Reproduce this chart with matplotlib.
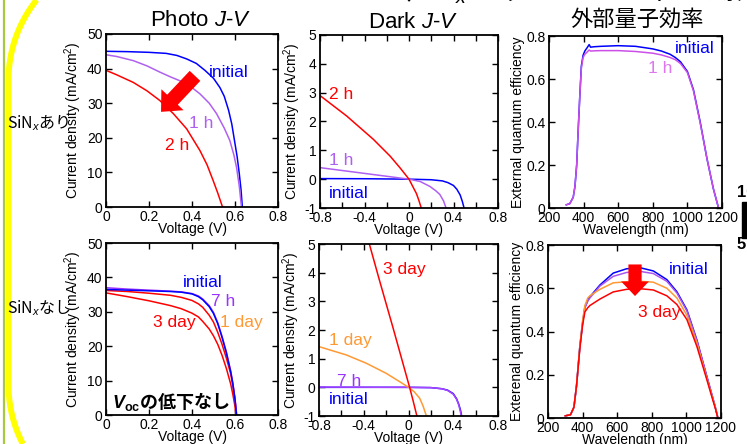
import numpy as np
import matplotlib
matplotlib.use("Agg")
import matplotlib.pyplot as plt
from matplotlib.lines import Line2D
from matplotlib.patches import Rectangle

plt.rcParams['font.family'] = ['Liberation Sans', 'Noto Sans CJK JP']
plt.rcParams['axes.unicode_minus'] = False
plt.rcParams['mathtext.fontset'] = 'custom'
plt.rcParams['mathtext.rm'] = 'Liberation Sans'
plt.rcParams['mathtext.it'] = 'Liberation Sans:italic'
plt.rcParams['mathtext.bf'] = 'Liberation Sans:bold'
try:
    plt.rcParams['mathtext.bfit'] = 'Liberation Sans:italic:bold'
except Exception:
    pass

# ---------------- data ----------------
# Panel 1: Photo J-V, SiNx あり
p1_initial_v = [0, 0.1, 0.2, 0.28, 0.33, 0.375, 0.42, 0.46, 0.5, 0.53, 0.55, 0.57, 0.585, 0.6, 0.61, 0.62, 0.628, 0.634]
p1_initial_j = [45, 44.9, 44.7, 44.4, 43.8, 42.8, 41.5, 39.5, 37.2, 34.5, 32, 28, 24, 18.3, 14.5, 9.6, 5, 0]
p1_1h_v = [0, 0.05, 0.127, 0.19, 0.25, 0.3, 0.343, 0.39, 0.437, 0.48, 0.514, 0.55, 0.576, 0.595, 0.607, 0.62, 0.63]
p1_1h_j = [44, 43.5, 42.3, 40.8, 39, 37.6, 36.5, 35, 32.7, 30, 27, 22.8, 19.2, 15, 11.5, 6, 0]
p1_2h_v = [0, 0.05, 0.127, 0.19, 0.25, 0.313, 0.375, 0.437, 0.47, 0.498, 0.52, 0.542]
p1_2h_j = [39.5, 38.2, 36, 33.6, 30.8, 27, 22.6, 16.3, 12.2, 7.7, 4, 0]

# Panel 2: Dark J-V, SiNx あり
p2_initial_v = [-0.8, -0.4, 0, 0.2, 0.3, 0.35, 0.4, 0.43, 0.46, 0.48, 0.495]
p2_initial_j = [0.02, 0.015, 0.0, -0.02, -0.06, -0.12, -0.22, -0.35, -0.55, -0.78, -1.0]
p2_1h_v = [-0.8, -0.4, 0, 0.1, 0.187, 0.24, 0.277, 0.31, 0.333]
p2_1h_j = [0.4, 0.2, 0.0, -0.08, -0.25, -0.4, -0.53, -0.75, -1.0]
p2_2h_v = [-0.8, -0.56, -0.32, -0.17, -0.08, 0, 0.04, 0.067, 0.09, 0.11]
p2_2h_j = [2.9, 2.19, 1.38, 0.8, 0.39, 0.0, -0.3, -0.5, -0.75, -1.0]

# Panel 3: EQE, SiNx あり
p3_wl = [300, 320, 340, 350, 360, 368, 378, 387, 397, 407, 420, 432, 440, 460, 500, 600, 700, 800, 850, 900, 930, 960, 1000, 1035, 1074, 1113, 1150, 1170, 1180]
p3_initial = [0.015, 0.02, 0.05, 0.1, 0.2, 0.35, 0.52, 0.66, 0.71, 0.73, 0.745, 0.76, 0.748, 0.75, 0.752, 0.755, 0.752, 0.74, 0.73, 0.715, 0.70, 0.68, 0.635, 0.55, 0.40, 0.23, 0.09, 0.03, 0.0]
p3_1h = [0.015, 0.02, 0.05, 0.1, 0.2, 0.35, 0.52, 0.65, 0.70, 0.715, 0.725, 0.735, 0.73, 0.731, 0.732, 0.732, 0.728, 0.72, 0.712, 0.70, 0.69, 0.672, 0.63, 0.545, 0.395, 0.23, 0.09, 0.03, 0.0]

# Panel 4: Photo J-V, SiNx なし
p4_v = [0, 0.1, 0.2, 0.3, 0.35, 0.4, 0.43, 0.45, 0.48, 0.5, 0.52, 0.54, 0.56, 0.58, 0.59, 0.6]
p4_initial = [36.5, 36.3, 36.1, 35.9, 35.7, 35.2, 34.4, 33.5, 31.5, 29.5, 26.5, 22.5, 18, 12.5, 9, 4.5]
p4_7h = [37, 36.6, 36.3, 36.0, 35.8, 35.3, 34.6, 33.7, 31.8, 29.8, 26.8, 22.8, 18.3, 12.8, 9.3, 4.8]
p4_1day = [36.2, 35.9, 35.4, 34.8, 34.2, 33.3, 32.3, 31.3, 29, 27, 24, 20.5, 16.5, 12, 8.5, 4.5]
p4_3day = [35.5, 34.4, 33.2, 31.8, 30.9, 29.6, 28.5, 27.2, 25, 23, 20.5, 17.3, 13.5, 9, 6, 2.5]
p4_voc = {'initial': 0.607, '7h': 0.608, '1day': 0.606, '3day': 0.604}

# Panel 5: Dark J-V, SiNx なし
p5_initial_v = [-0.8, 0, 0.2, 0.3, 0.35, 0.4, 0.43, 0.45, 0.465, 0.475]
p5_initial_j = [0.0, 0.0, -0.01, -0.05, -0.1, -0.22, -0.4, -0.6, -0.8, -1.0]
p5_7h_v = [-0.8, 0, 0.2, 0.3, 0.35, 0.4, 0.43, 0.45, 0.462, 0.472]
p5_7h_j = [0.01, 0.0, -0.01, -0.05, -0.11, -0.24, -0.42, -0.62, -0.82, -1.0]
p5_1day_v = [-0.8, -0.556, -0.377, -0.2, -0.08, 0, 0.05, 0.1, 0.13, 0.16]
p5_1day_j = [1.42, 1.13, 0.84, 0.49, 0.2, 0.0, -0.15, -0.38, -0.65, -1.0]
p5_3day_v = [-0.35, -0.26, -0.14, -0.05, 0.01, 0.04, 0.075]
p5_3day_j = [5.0, 3.74, 2.1, 0.84, 0.0, -0.45, -1.0]

# Panel 6: EQE, SiNx なし
p6_wl = [300, 330, 350, 365, 384, 400, 413, 430, 442, 500, 577, 654, 732, 809, 887, 945, 1003, 1061, 1119, 1150, 1167, 1182]
p6_initial = [0.01, 0.015, 0.05, 0.15, 0.33, 0.44, 0.51, 0.545, 0.56, 0.615, 0.67, 0.69, 0.695, 0.68, 0.64, 0.584, 0.50, 0.36, 0.19, 0.10, 0.05, 0.0]
p6_7h = [0.01, 0.015, 0.05, 0.15, 0.33, 0.44, 0.51, 0.54, 0.555, 0.61, 0.655, 0.673, 0.678, 0.668, 0.632, 0.578, 0.495, 0.356, 0.188, 0.10, 0.05, 0.0]
p6_1day = [0.01, 0.015, 0.05, 0.15, 0.33, 0.45, 0.52, 0.555, 0.565, 0.595, 0.625, 0.63, 0.632, 0.628, 0.60, 0.555, 0.475, 0.345, 0.18, 0.095, 0.05, 0.0]
p6_3day = [0.01, 0.015, 0.05, 0.15, 0.32, 0.43, 0.49, 0.51, 0.52, 0.55, 0.583, 0.595, 0.598, 0.592, 0.565, 0.525, 0.455, 0.33, 0.175, 0.09, 0.045, 0.0]

# ticks
jv_photo_xticks = [0, 0.2, 0.4, 0.6, 0.8]
jv_photo_xlabels = ['0', '0.2', '0.4', '0.6', '0.8']
jv_photo_yticks = [0, 10, 20, 30, 40, 50]
jv_dark_xticks = [-0.8, -0.4, 0, 0.4, 0.8]
jv_dark_xlabels = ['-0.8', '-0.4', '0', '0.4', '0.8']
jv_dark_xminor = [-0.8, -0.6, -0.4, -0.2, 0, 0.2, 0.4, 0.6, 0.8]
jv_dark_yticks = [-1, 0, 1, 2, 3, 4, 5]
eqe_xticks = [200, 400, 600, 800, 1000, 1200]
eqe_yticks = [0, 0.2, 0.4, 0.6, 0.8]
eqe_ylabels = ['0', '0.2', '0.4', '0.6', '0.8']

# ---------------- style ----------------
BLUE = '#0000ff'
RED = '#ff0000'
VIOLET = '#b060f0'
VIOLET3 = '#cc50e8'
PURPLE = '#9933ff'
ORANGE = '#ff9933'

W, H = 747, 444
fig = plt.figure(figsize=(W / 100, H / 100), dpi=100)


def ax_at(l, t, r, b):
    return fig.add_axes([l / W, 1 - b / H, (r - l) / W, (b - t) / H])


def style(ax):
    ax.tick_params(which='both', direction='in', top=True, right=True,
                   length=4, width=1, labelsize=10, pad=2.5, colors='black')
    for s in ax.spines.values():
        s.set_linewidth(1.3)


LW = 1.1
ylab_jv = 'Current density (mA/cm$^2$)'

# Panel 1
ax1 = ax_at(106, 34, 278, 207)
ax1.plot(p1_initial_v, p1_initial_j, color=BLUE, lw=LW)
ax1.plot(p1_1h_v, p1_1h_j, color=VIOLET, lw=LW)
ax1.plot(p1_2h_v, p1_2h_j, color=RED, lw=LW)
ax1.set_xlim(0, 0.8); ax1.set_ylim(0, 50)
ax1.set_xticks(jv_photo_xticks, jv_photo_xlabels)
ax1.set_yticks(jv_photo_yticks)
ax1.text(0.48, 39, 'initial', color=BLUE, fontsize=12.5, va='center')
ax1.text(0.385, 24, '1 h', color=VIOLET, fontsize=12.5, va='center')
ax1.text(0.275, 17.8, '2 h', color=RED, fontsize=12.5, va='center')
ax1.annotate('', xy=(0.256, 27.5), xytext=(0.414, 37.9),
             arrowprops=dict(arrowstyle='simple,head_length=1.2,head_width=2.2,tail_width=1.05',
                             color=RED, lw=0, shrinkA=0, shrinkB=0, mutation_scale=10))
ax1.set_ylabel(ylab_jv, fontsize=10, labelpad=2)
ax1.set_xlabel('Voltage (V)', fontsize=10, labelpad=-1.5)
style(ax1)

# Panel 2
ax2 = ax_at(320, 35, 498, 208)
ax2.plot(p2_initial_v, p2_initial_j, color=BLUE, lw=LW)
ax2.plot(p2_1h_v, p2_1h_j, color=VIOLET, lw=LW)
ax2.plot(p2_2h_v, p2_2h_j, color=RED, lw=LW)
ax2.set_xlim(-0.8, 0.8); ax2.set_ylim(-1, 5)
ax2.set_xticks(jv_dark_xticks, jv_dark_xlabels)
ax2.set_xticks(jv_dark_xminor, minor=True)
ax2.set_yticks(jv_dark_yticks)
ax2.text(-0.72, 2.95, '2 h', color=RED, fontsize=12.5, va='center')
ax2.text(-0.72, 0.65, '1 h', color=VIOLET, fontsize=12.5, va='center')
ax2.text(-0.72, -0.5, 'initial', color=BLUE, fontsize=12.5, va='center')
ax2.set_ylabel(ylab_jv, fontsize=10, labelpad=1)
ax2.set_xlabel('Voltage (V)', fontsize=10, labelpad=-1.5)
style(ax2)

# Panel 3
ax3 = ax_at(549, 36, 722, 208)
ax3.plot(p3_wl, p3_initial, color=BLUE, lw=LW)
ax3.plot(p3_wl, p3_1h, color=VIOLET3, lw=LW)
ax3.set_xlim(200, 1200); ax3.set_ylim(0, 0.8)
ax3.set_xticks(eqe_xticks)
ax3.set_yticks(eqe_yticks, eqe_ylabels)
ax3.text(930, 0.743, 'initial', color=BLUE, fontsize=12.5, va='center')
ax3.text(775, 0.65, '1 h', color='#dd77ee', fontsize=12.5, va='center')
ax3.set_ylabel('External quantum efficiency', fontsize=10, labelpad=1)
ax3.set_xlabel('Wavelength (nm)', fontsize=10, labelpad=-1.5)
style(ax3)

# Panel 4
ax4 = ax_at(106, 243, 278, 415)
for vals, key, col in [(p4_3day, '3day', RED), (p4_1day, '1day', RED),
                       (p4_7h, '7h', PURPLE), (p4_initial, 'initial', BLUE)]:
    ax4.plot(p4_v + [p4_voc[key]], vals + [0], color=col, lw=LW)
ax4.set_xlim(0, 0.8); ax4.set_ylim(0, 50)
ax4.set_xticks(jv_photo_xticks, jv_photo_xlabels)
ax4.set_yticks(jv_photo_yticks)
ax4.text(0.358, 38.4, 'initial', color=BLUE, fontsize=12.5, va='center')
ax4.text(0.488, 33.1, '7 h', color=PURPLE, fontsize=12.5, va='center')
ax4.text(0.53, 27.0, '1 day', color=ORANGE, fontsize=12.5, va='center')
ax4.text(0.219, 27.0, '3 day', color=RED, fontsize=12.5, va='center')
ax4.text(0.03, 3.8, r'$\mathbfit{V}_{\mathbf{oc}}$の低下なし', fontsize=13,
         family='Noto Sans CJK JP', fontweight='bold', va='center')
ax4.set_ylabel(ylab_jv, fontsize=10, labelpad=2)
ax4.set_xlabel('Voltage (V)', fontsize=10, labelpad=-1.5)
style(ax4)

# Panel 5
ax5 = ax_at(319, 244, 498, 416)
ax5.plot(p5_initial_v, p5_initial_j, color=BLUE, lw=LW)
ax5.plot(p5_7h_v, p5_7h_j, color='#aa44ff', lw=LW)
ax5.plot(p5_1day_v, p5_1day_j, color=ORANGE, lw=LW)
ax5.plot(p5_3day_v, p5_3day_j, color=RED, lw=LW)
ax5.set_xlim(-0.8, 0.8); ax5.set_ylim(-1, 5)
ax5.set_xticks(jv_dark_xticks, jv_dark_xlabels)
ax5.set_xticks(jv_dark_xminor, minor=True)
ax5.set_yticks(jv_dark_yticks)
ax5.text(-0.23, 4.1, '3 day', color=RED, fontsize=12.5, va='center')
ax5.text(-0.71, 1.65, '1 day', color=ORANGE, fontsize=12.5, va='center')
ax5.text(-0.64, 0.2, '7 h', color=PURPLE, fontsize=12.5, va='center')
ax5.text(-0.71, -0.42, 'initial', color=BLUE, fontsize=12.5, va='center')
ax5.set_ylabel(ylab_jv, fontsize=10, labelpad=1)
ax5.set_xlabel('Voltage (V)', fontsize=10, labelpad=-1.5)
style(ax5)

# Panel 6
ax6 = ax_at(548, 245, 721, 418)
ax6.plot(p6_wl, p6_initial, color=BLUE, lw=LW)
ax6.plot(p6_wl, p6_7h, color='#aa55ee', lw=LW)
ax6.plot(p6_wl, p6_1day, color=ORANGE, lw=LW)
ax6.plot(p6_wl, p6_3day, color=RED, lw=LW)
ax6.set_xlim(200, 1200); ax6.set_ylim(0, 0.8)
ax6.set_xticks(eqe_xticks)
ax6.set_yticks(eqe_yticks, eqe_ylabels)
ax6.text(896, 0.687, 'initial', color=BLUE, fontsize=12.5, va='center')
ax6.text(718, 0.49, '3 day', color=RED, fontsize=12.5, va='center')
ax6.annotate('', xy=(703, 0.564), xytext=(703, 0.71),
             arrowprops=dict(arrowstyle='simple,head_length=1.05,head_width=2.0,tail_width=0.95',
                             color=RED, lw=0, shrinkA=0, shrinkB=0, mutation_scale=10))
ax6.set_ylabel('Exterenal quantum efficiency', fontsize=10, labelpad=1)
ax6.set_xlabel('Wavelength (nm)', fontsize=10, labelpad=-1.5)
style(ax6)

# ---------------- titles / slide decorations ----------------
def ftext(x, y, s, **kw):
    return fig.text(x / W, 1 - y / H, s, **kw)

ftext(201, 21, 'Photo $J$-$V$', fontsize=16, ha='center', va='center')
ftext(413, 23, 'Dark $J$-$V$', fontsize=16, ha='center', va='center')
ftext(637, 20, '外部量子効率', fontsize=16, ha='center', va='center')
ftext(383, 0, '（SiN$_x$ パッシベーションの影響）', fontsize=20,
      family='Noto Sans CJK JP', ha='left', va='baseline')
ftext(7, 123, 'SiN$_x$あり', fontsize=11.5, family='Noto Sans CJK JP', ha='left', va='center')
ftext(7, 308, 'SiN$_x$なし', fontsize=11.5, family='Noto Sans CJK JP', ha='left', va='center')
ftext(737, 192, '10', fontsize=12, fontweight='bold', ha='left', va='center')
ftext(737, 244, '5', fontsize=12, fontweight='bold', ha='left', va='center')
fig.patches.append(Rectangle((742 / W, 1 - 238 / H), 6 / W, 36 / H,
                             transform=fig.transFigure, color='black', zorder=5))

# green vertical rule and yellow rounded frame
fig.lines.append(Line2D([3.5 / W, 3.5 / W], [0, 1], transform=fig.transFigure,
                        color='#a8c840', lw=1.6))
r = 128
xl = 8.5
top_y = np.linspace(0, 80, 40)
top_x = xl + r - np.sqrt(np.clip(r ** 2 - (80 - top_y) ** 2, 0, None))
bot_y = np.linspace(385, 444, 30)
bot_x = xl + r - np.sqrt(np.clip(r ** 2 - (bot_y - 385) ** 2, 0, None))
px = np.concatenate([top_x, [xl, xl], bot_x])
py = np.concatenate([top_y, [80, 385], bot_y])
fig.lines.append(Line2D(px / W, 1 - py / H, transform=fig.transFigure,
                        color='#ffff00', lw=4.3, solid_capstyle='butt'))

fig.savefig('out.png', dpi=100)
